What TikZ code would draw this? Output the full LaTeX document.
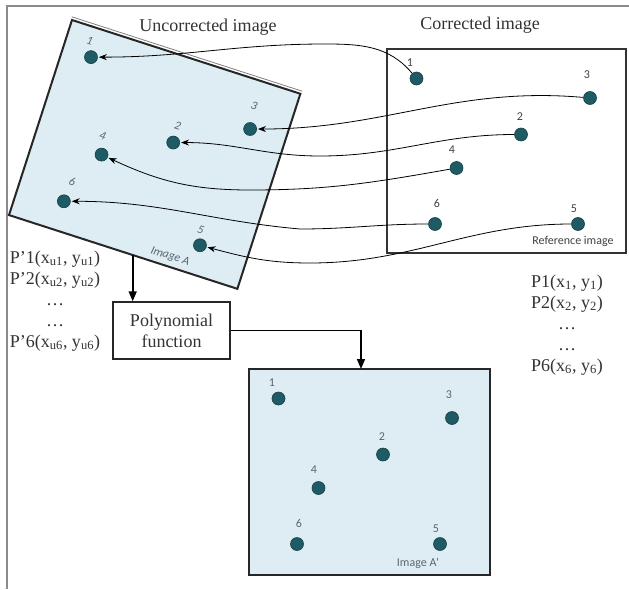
\documentclass[tikz,border=0pt]{standalone}
\usepackage{fontspec}
\setmainfont{Liberation Serif}
\newfontfamily\lblfont{Carlito}
\usetikzlibrary{arrows.meta}
\definecolor{imgfill}{HTML}{DEEDF3}
\definecolor{dotcol}{HTML}{1F5B64}
\definecolor{lblgray}{HTML}{5B6670}
\definecolor{framegray}{HTML}{8A8A8A}

\begin{document}
\begin{tikzpicture}[x=1pt, y=-1pt, >={Stealth[length=8pt,width=6pt]},
	dot/.style={circle, fill=dotcol, draw=dotcol!70!black, line width=0.6pt, minimum size=13pt, inner sep=0pt},
	num/.style={font=\lblfont\fontsize{12}{12}\selectfont, text=lblgray, inner sep=0pt},
	slanted num/.style={font=\lblfont\itshape\fontsize{12}{12}\selectfont, text=lblgray, inner sep=0pt, transform shape},
	img/.style={draw=black!85, line width=2pt, fill=imgfill},
	link/.style={->, line width=0.8pt, shorten >=1pt},
	flow/.style={-{Triangle[length=10pt,width=8pt]}, line width=1.6pt},
	txt/.style={font=\fontsize{18}{21}\selectfont, text=black!80, align=center, inner sep=0pt}]
	\useasboundingbox (0,0) rectangle (629,589);
	\draw[framegray, line width=1.2pt] (629,6) -- (7,6) -- (7,589);

	% titles
	\node[txt] (titleU) at (208,27) {Uncorrected image};
	\node[txt] (titleC) at (480,25) {Corrected image};

	% image A (rotated)
	\begin{scope}[shift={(72,20)}, rotate=-17.9]
		\draw[img] (0,0) rectangle (240,205);
		\draw[black!50, line width=0.8pt] (-1,-3) -- (241,-3);
		\foreach \n/\x/\y/\lx/\ly in {1/29.5/29.5/23/14, 2/134/85.5/133/68, 3/203/49/200/26, 4/69.5/119/65/101, 5/191/175/187/160, 6/48/175/50/154} {
			\node[dot] (a\n) at (\x,\y) {};
			\node[slanted num] at (\lx,\ly) {\n};
		}
		\node[slanted num] (capA) at (166,195) {Image A};
		\coordinate (abot) at (130,205);
	\end{scope}

	% reference image
	\begin{scope}[shift={(387,49)}]
		\draw[draw=black!80, line width=1.4pt] (0,0) rectangle (239,204);
		\foreach \n/\x/\y/\lx/\ly in {1/29.5/29.5/23/14, 2/134/85.5/133/68, 3/203/49/200/26, 4/69.5/119/65/101, 5/191/175/187/160, 6/48/175/50/154} {
			\node[dot] (r\n) at (\x,\y) {};
			\node[num, text=black!75] at (\lx,\ly) {\n};
		}
		\node[num, text=black!75] (capR) at (186,192) {Reference image};
	\end{scope}

	% image A'
	\begin{scope}[shift={(249,369)}]
		\draw[img] (0,0) rectangle (241,206);
		\foreach \n/\x/\y/\lx/\ly in {1/29.5/29.5/23/14, 2/134/85.5/133/68, 3/203/49/200/26, 4/69.5/119/65/101, 5/191/175/187/160, 6/48/175/50/154} {
			\node[dot] (b\n) at (\x,\y) {};
			\node[num] at (\lx,\ly) {\n};
		}
		\node[num] (capB) at (169,194) {Image A'};
		\coordinate (bin) at (112,0);
	\end{scope}

	% point lists
	\node[txt] (listU) at (55,301) {P’1(x\textsubscript{u1}, y\textsubscript{u1})\\P’2(x\textsubscript{u2}, y\textsubscript{u2})\\\dots\\\dots\\P’6(x\textsubscript{u6}, y\textsubscript{u6})};
	\node[txt] (listC) at (567,325) {P1(x\textsubscript{1}, y\textsubscript{1})\\P2(x\textsubscript{2}, y\textsubscript{2})\\\dots\\\dots\\P6(x\textsubscript{6}, y\textsubscript{6})};

	\node[txt, draw=black!85, line width=1.4pt, minimum width=117, minimum height=57] (poly) at (171.5,330.5) {Polynomial\\function};

	\draw[flow] (abot) -- (abot |- poly.north);
	\draw[flow] (poly.east) -| (bin);

	% matching points
	\draw[link] (r1) to[out=130,in=0] (325,44) to[out=180,in=0] (a1);
	\draw[link] (r3) to[out=175,in=0] (a3);
	\draw[link] (r2) to[out=180,in=0] (320,156) to[out=180,in=0] (a2);
	\draw[link] (r4) to[out=190,in=0] (250,190) to[out=180,in=-25] (a4);
	\draw[link] (r6) to[out=180,in=0] (300,229) to[out=175,in=0] (a6);
	\draw[link] (r5) to[out=180,in=0] (310,263) to[out=180,in=-15] (a5);
\end{tikzpicture}
\end{document}
